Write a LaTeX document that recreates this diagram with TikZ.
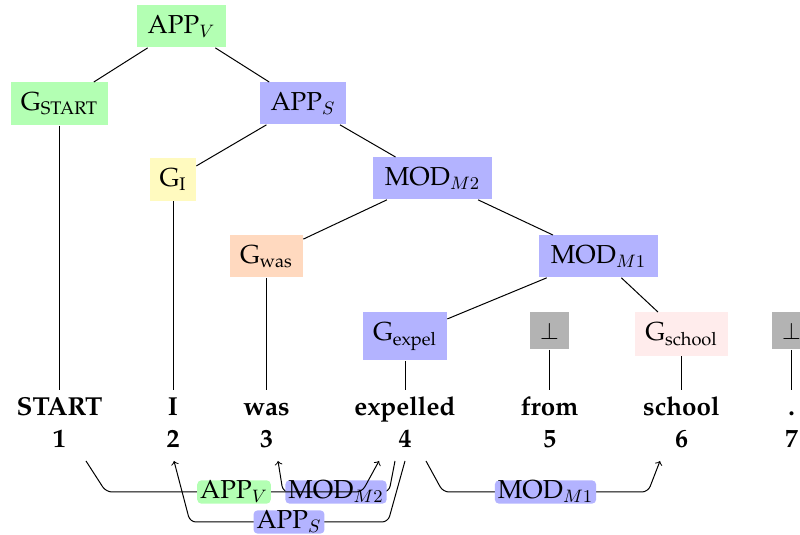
\documentclass[tikz,border=0pt]{standalone}
\usepackage[T1]{fontenc}
\renewcommand{\rmdefault}{ppl}
\usetikzlibrary{calc}
\definecolor{cgreen}{RGB}{179,255,179}
\definecolor{cblue}{RGB}{179,179,255}
\definecolor{cyellow}{RGB}{255,250,191}
\definecolor{corange}{RGB}{255,217,191}
\definecolor{cpink}{RGB}{255,236,236}
\definecolor{cgray}{RGB}{179,179,179}
\begin{document}
\begin{tikzpicture}[x=0.5pt,y=-0.5pt,
  font=\fontsize{13}{15}\selectfont,
  tn/.style={anchor=north, inner xsep=2pt, inner ysep=5pt, minimum height=20.5pt},
  wd/.style={anchor=base, font=\fontsize{13}{15}\selectfont\bfseries, inner ysep=3.5pt, text height=9.5pt, text depth=2.5pt},
  num/.style={anchor=base, font=\fontsize{13}{15}\selectfont\bfseries, inner ysep=3.5pt, text height=9pt, text depth=3.5pt},
  tl/.style={line width=0.5pt},
  dep/.style={->, line width=0.5pt, rounded corners=3pt},
  lab/.style={rounded corners=2pt, inner xsep=1.5pt, inner ysep=0.4pt, text height=8.8pt, text depth=2pt}]
\useasboundingbox (0,0) rectangle (800,535);
% tree nodes
\node[tn, fill=cgreen, minimum width=44.5pt] (appv) at (181.5,5) {APP$_V$};
\node[tn, fill=cgreen, minimum width=48.5pt] (gstart) at (59.5,82) {G\textsubscript{START}};
\node[tn, fill=cblue, minimum width=43pt] (apps) at (303,82) {APP$_S$};
\node[tn, fill=cyellow, minimum width=23pt] (gi) at (173,158) {G\textsubscript{I}};
\node[tn, fill=cblue, minimum width=59.5pt] (modm2) at (432.5,157) {MOD$_{M2}$};
\node[tn, fill=corange, minimum width=36.5pt] (gwas) at (266.5,235) {G\textsubscript{was}};
\node[tn, fill=cblue, minimum width=59.5pt] (modm1) at (598.5,235) {MOD$_{M1}$};
\node[tn, fill=cblue, minimum width=42pt] (gexpel) at (405,312) {G\textsubscript{expel}};
\node[tn, fill=cgray, minimum width=19.5pt, minimum height=18.5pt] (bot5) at (549.5,312) {$\perp$};
\node[tn, fill=cpink, minimum width=46.5pt] (gschool) at (681.5,312) {G\textsubscript{school}};
\node[tn, fill=cgray, minimum width=19.5pt, minimum height=18.5pt] (bot7) at (791.5,312) {$\perp$};
% words
\node[wd] (w1) at (59.5,416) {START};
\node[wd] (w2) at (173,416) {I};
\node[wd] (w3) at (266.5,416) {was};
\node[wd] (w4) at (405,416) {expelled};
\node[wd] (w5) at (549.5,416) {from};
\node[wd] (w6) at (681.5,416) {school};
\node[wd] (w7) at (791.5,416) {.};
% numbers
\node[num] (n1) at (59.5,448) {1};
\node[num] (n2) at (173,448) {2};
\node[num] (n3) at (266.5,448) {3};
\node[num] (n4) at (405,448) {4};
\node[num] (n5) at (549.5,448) {5};
\node[num] (n6) at (681.5,448) {6};
\node[num] (n7) at (791.5,448) {7};
% tree edges
\draw[tl] (appv) -- (gstart);
\draw[tl] (appv) -- (apps);
\draw[tl] (apps) -- (gi);
\draw[tl] (apps) -- (modm2);
\draw[tl] (modm2) -- (gwas);
\draw[tl] (modm2) -- (modm1);
\draw[tl] (modm1) -- (gexpel);
\draw[tl] (modm1) -- (gschool);
\draw[tl] (gstart) -- (w1);
\draw[tl] (gi) -- (w2);
\draw[tl] (gwas) -- (w3);
\draw[tl] (gexpel) -- (w4);
\draw[tl] (bot5) -- (w5);
\draw[tl] (gschool) -- (w6);
\draw[tl] (bot7) -- (w7);
% dependency end points
\coordinate (s1) at (86,461);
\coordinate (s4a) at (395,461);
\coordinate (s4b) at (405,461);
\coordinate (s4c) at (426,461);
\coordinate (e2) at (174,461);
\coordinate (e3) at (278,461);
\coordinate (e4) at (379,461);
\coordinate (e6) at (660,461);
% dependency edges
\draw[dep] (s4a) -- (389,492) -- node[lab, fill=cblue] (lm2) {MOD$_{M2}$} (283,492) -- (e3);
\draw[dep] (s1) -- (106,492) -- node[lab, fill=cgreen] (lv) {APP$_V$} (362,492) -- (e4);
\draw[dep] (s4b) -- (388,522) -- node[lab, fill=cblue] (ls) {APP$_S$} (190,522) -- (e2);
\draw[dep] (s4c) -- (443,492) -- node[lab, fill=cblue] (lm1) {MOD$_{M1}$} (648,492) -- (e6);
\end{tikzpicture}
\end{document}
